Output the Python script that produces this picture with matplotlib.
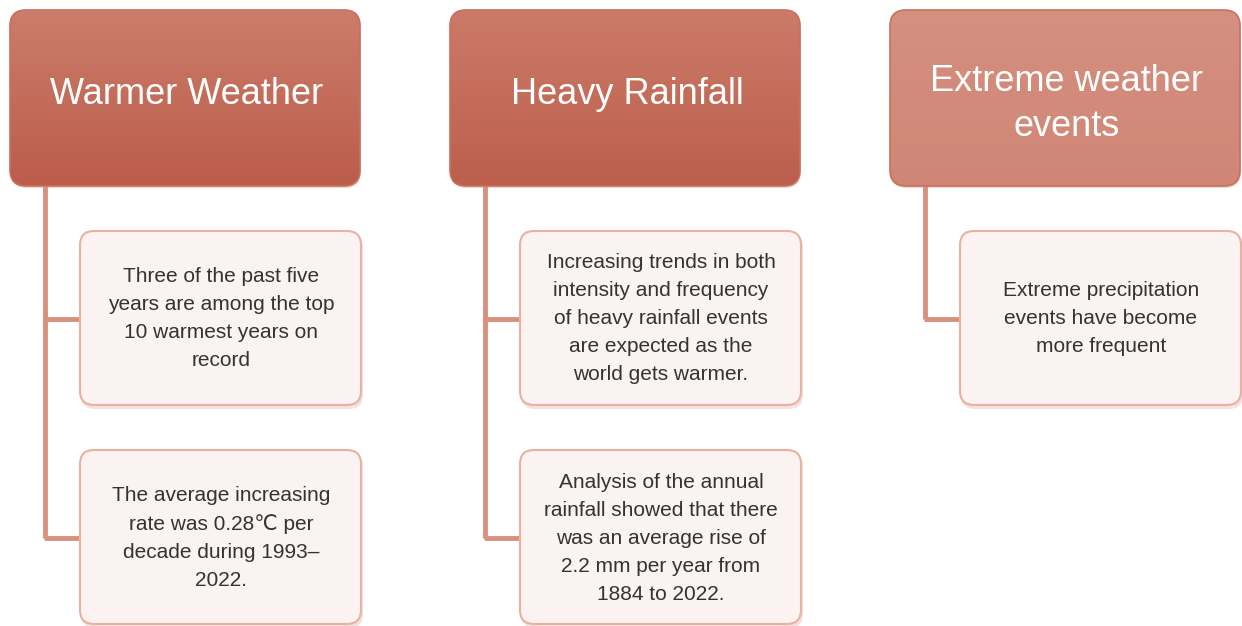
import numpy as np
import matplotlib.pyplot as plt
from matplotlib.patches import FancyBboxPatch
from matplotlib.colors import to_rgb

# headings and the notes under each of them
headings = ['Warmer Weather', 'Heavy Rainfall', 'Extreme weather\nevents']
heading_colors = [('#cc7c6c', '#bb5d4a'), ('#cc7a69', '#bc5f4c'), ('#d5907f', '#d08676')]
notes = [
    ['Three of the past five\nyears are among the top\n10 warmest years on\nrecord',
     'The average increasing\nrate was 0.28\u2103 per\ndecade during 1993\u2013\n2022.'],
    ['Increasing trends in both\nintensity and frequency\nof heavy rainfall events\nare expected as the\nworld gets warmer.',
     'Analysis of the annual\nrainfall showed that there\nwas an average rise of\n2.2 mm per year from\n1884 to 2022.'],
    ['Extreme precipitation\nevents have become\nmore frequent'],
]

plt.rcParams['font.family'] = ['Liberation Sans', 'DejaVu Sans']

fig = plt.figure(figsize=(12.42, 6.26), dpi=100)
ax = fig.add_axes([0, 0, 1, 1])
ax.set_xlim(0, 1242)
ax.set_ylim(626, 0)
ax.axis('off')

col_x = [10, 450, 890]
head_w, head_h = 350, 176
note_w, note_h = 282, 176
note_y = [231, 450]
line_c = '#d9907d'


def gradient_box(x, y, w, h, c_top, c_bot):
    box = FancyBboxPatch((x, y), w, h, boxstyle='round,pad=0,rounding_size=16',
                         fc='none', ec='none')
    ax.add_patch(box)
    t = np.linspace(0, 1, 64)[:, None]
    a, b = np.array(to_rgb(c_top)), np.array(to_rgb(c_bot))
    img = (a * (1 - t) + b * t)[:, None, :]
    im = ax.imshow(img, extent=(x, x + w, y + h, y), aspect='auto', zorder=2)
    im.set_clip_path(box)
    ax.add_patch(FancyBboxPatch((x, y), w, h, boxstyle='round,pad=0,rounding_size=16',
                                fc='none', ec='#c8705e', lw=1.2, zorder=3))


for i, head in enumerate(headings):
    x = col_x[i]
    # soft shadow
    ax.add_patch(FancyBboxPatch((x + 1, 12), head_w, head_h,
                                boxstyle='round,pad=0,rounding_size=16',
                                fc='#f0d8d0', ec='none', zorder=1))
    gradient_box(x, 10, head_w, head_h, *heading_colors[i])
    dy = 6 if '\n' in head else -3
    ax.text(x + head_w / 2 + 2, 10 + head_h / 2 + dy, head, ha='center', va='center',
            color='white', fontsize=26, linespacing=1.35, zorder=4)

    lx = x + 35
    last_mid = note_y[len(notes[i]) - 1] + note_h / 2
    ax.plot([lx, lx], [186, last_mid], color=line_c, lw=3.5, solid_capstyle='butt', zorder=1)
    for j, note in enumerate(notes[i]):
        ny = note_y[j]
        nx = x + 70
        ax.plot([lx - 1.5, nx], [ny + note_h / 2, ny + note_h / 2], color=line_c, lw=3.5,
                solid_capstyle='butt', zorder=1)
        ax.add_patch(FancyBboxPatch((nx + 1, ny + 2), note_w, note_h,
                                    boxstyle='round,pad=0,rounding_size=14',
                                    fc='#f3e3de', ec='none', zorder=1))
        ax.add_patch(FancyBboxPatch((nx, ny), note_w - 1, note_h - 2,
                                    boxstyle='round,pad=0,rounding_size=14',
                                    fc='#faf3f1', ec='#eab0a2', lw=1.5, zorder=2))
        ax.text(nx + note_w / 2, ny + note_h / 2, note, ha='center', va='center',
                color='#333333', fontsize=15, linespacing=1.6, zorder=4)

fig.savefig('out.png', dpi=100, facecolor='white')
